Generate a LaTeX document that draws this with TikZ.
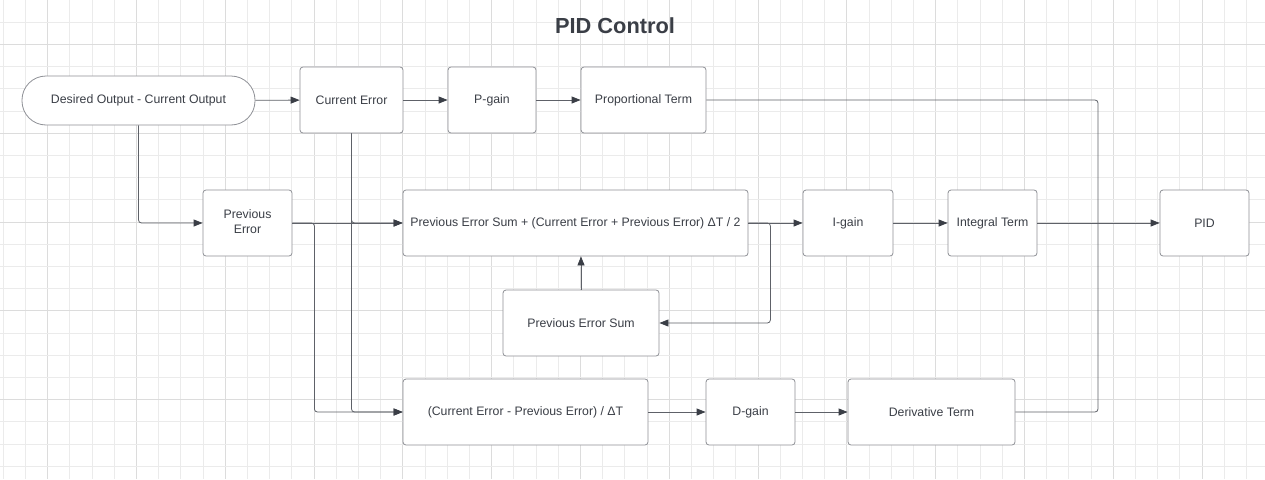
\documentclass[tikz,border=0pt]{standalone}
\usepackage{fontspec}
\setmainfont{Liberation Sans}
\usetikzlibrary{arrows.meta}
\definecolor{gridminor}{HTML}{EBEBEB}
\definecolor{gridmajor}{HTML}{DCDCDC}
\definecolor{boxline}{HTML}{8E9096}
\definecolor{txt}{HTML}{3A3E46}
\definecolor{conncol}{HTML}{5E6168}
\definecolor{tipcol}{HTML}{3A3E46}
\tikzset{
  blk/.style={draw=boxline, line width=0.8pt, rounded corners=3pt, fill=white, text=txt,
    font=\fontsize{12.3}{15}\selectfont, align=center, inner sep=2pt},
  pill/.style={blk, rounded corners=24pt},
  conn/.style={draw=conncol, line width=0.8pt, rounded corners=3pt,
    -{Triangle[length=9pt,width=7pt,fill=tipcol,color=tipcol]}},
  plain/.style={draw=conncol, line width=0.8pt, rounded corners=3pt},
}
\begin{document}
\begin{tikzpicture}[x=1pt,y=-1pt]
\useasboundingbox (0,0) rectangle (1265,479);
\fill[white] (0,0) rectangle (1265,479);
% grid
\foreach \k in {0,...,57} {
  \pgfmathsetmacro{\xx}{3.3+22.2*\k}
  \pgfmathtruncatemacro{\m}{mod(\k,4)}
  \ifnum\m=2 \draw[gridmajor, line width=0.9pt] (\xx,0) -- (\xx,479);
  \else \draw[gridminor, line width=0.9pt] (\xx,0) -- (\xx,479); \fi
}
\foreach \k in {1,...,21} {
  \pgfmathsetmacro{\yy}{22.2*\k}
  \pgfmathtruncatemacro{\m}{mod(\k,4)}
  \ifnum\m=2 \draw[gridmajor, line width=0.9pt] (0,\yy) -- (1265,\yy);
  \else \draw[gridminor, line width=0.9pt] (0,\yy) -- (1265,\yy); \fi
}
% title
\node[text=txt, font=\fontsize{21.8}{24}\selectfont\bfseries] (title) at (615,26) {PID Control};
% nodes
\node[pill, minimum width=233pt, minimum height=49pt] (des) at (138.5,100.5) {Desired Output - Current Output};
\node[blk, minimum width=103pt, minimum height=66pt] (cerr) at (351.5,100) {Current Error};
\node[blk, minimum width=88pt, minimum height=66pt] (pgain) at (492,100) {P-gain};
\node[blk, minimum width=125pt, minimum height=66pt] (pterm) at (643.5,100) {Proportional Term};
\node[blk, minimum width=89pt, minimum height=66pt] (perr) at (247.5,223) {Previous\\Error\vphantom{y}};
\node[blk, minimum width=345pt, minimum height=66pt] (big) at (575.5,223) {Previous Error Sum + (Current Error + Previous Error) ΔT / 2};
\node[blk, minimum width=90pt, minimum height=66pt] (igain) at (848,223) {I-gain};
\node[blk, minimum width=89pt, minimum height=66pt] (iterm) at (992.5,223) {Integral Term};
\node[blk, minimum width=89pt, minimum height=66pt] (pid) at (1204.5,223) {PID};
\node[blk, minimum width=156pt, minimum height=66pt] (pes) at (581,323) {Previous Error Sum};
\node[blk, minimum width=245pt, minimum height=66pt] (der) at (525.5,412) {(Current Error - Previous Error) / ΔT};
\node[blk, minimum width=89pt, minimum height=66pt] (dgain) at (750.5,412) {D-gain};
\node[blk, minimum width=167pt, minimum height=66pt] (dterm) at (931.5,412) {Derivative Term};
\coordinate (merge) at (1098,223);
% connectors
\draw[conn] (des) -- (cerr);
\draw[conn] (cerr) -- (pgain);
\draw[conn] (pgain) -- (pterm);
\draw[conn] (des.south) |- (perr);
\draw[conn] (perr) -- (big);
\draw[conn] (perr.east) -- ++(22,0) |- (der.west);
\draw[conn] (cerr.south) |- (big.west);
\draw[conn] (cerr.south) |- (der.west);
\draw[conn] (big) -- (igain);
\draw[conn] (big.east) -- ++(22,0) |- (pes.east);
\draw[conn] (pes.north) -- (pes.north |- big.south);
\draw[conn] (igain) -- (iterm);
\draw[conn] (iterm) -- (pid);
\draw[conn] (der) -- (dgain);
\draw[conn] (dgain) -- (dterm);
\draw[plain] (pterm.east) -| (merge);
\draw[plain] (dterm.east) -| (merge);
\end{tikzpicture}
\end{document}
